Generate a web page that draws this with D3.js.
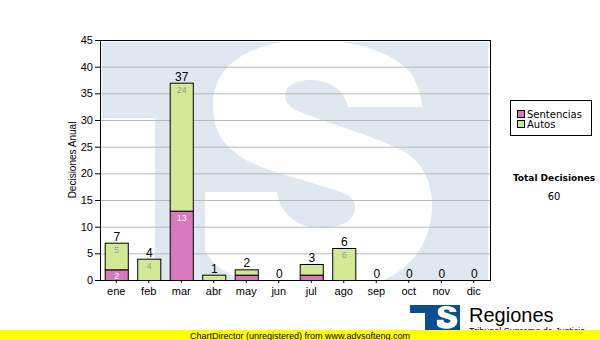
<!DOCTYPE html>
<html>
<head>
<meta charset="utf-8">
<script src="https://cdn.jsdelivr.net/npm/d3@7"></script>
<style>
  body { margin: 0; background: #fff; }
  svg { display: block; font-family: "Liberation Sans", Arial, sans-serif; }
</style>
</head>
<body>
<div id="chart"></div>
<script>
// Monthly decisions, stacked: Sentencias at the bottom, Autos on top
const months = ["ene", "feb", "mar", "abr", "may", "jun", "jul", "ago", "sep", "oct", "nov", "dic"];
const sentencias = [2, 0, 13, 0, 1, 0, 1, 0, 0, 0, 0, 0];
const autos = [5, 4, 24, 1, 1, 0, 2, 6, 0, 0, 0, 0];
const seriesNames = ["Sentencias", "Autos"];
const seriesColors = ["#d878bc", "#d2e894"];
const yTicks = [0, 5, 10, 15, 20, 25, 30, 35, 40, 45];

const width = 600;
const height = 340;
const marginTop = 40;
const marginBottom = 60;
const marginLeft = 100;
const plotRight = 490;

// outline of the "S" of the logo (used big for the watermark, small for the icon)
const sPath = "M422,107 L348,107 C345,92 332,80 312,80 C295,80 285,86 285,95 " +
  "C285,103 290,108 300,112 C330,124 380,138 405,152 C425,165 432,185 432,205 " +
  "C432,262 385,292 325,292 C260,292 215,275 205,250 L205,192 L277,192 " +
  "C280,215 298,228 322,228 C342,228 355,220 355,208 C355,198 348,194 335,190 " +
  "C300,178 250,168 235,152 C218,140 213,122 213,105 C213,62 255,40 310,40 " +
  "C360,40 398,55 412,75 C418,85 422,98 422,107 Z";

const rows = months.map((m, i) => ({month: m, Sentencias: sentencias[i], Autos: autos[i]}));
const series = d3.stack().keys(seriesNames)(rows);

const x = d3.scaleBand()
    .domain(months)
    .range([marginLeft, plotRight])
    .paddingInner(0.29)
    .paddingOuter(0.145);

const y = d3.scaleLinear()
    .domain([0, 45])
    .range([height - marginBottom, marginTop]);

const color = d3.scaleOrdinal().domain(seriesNames).range(seriesColors);

const svg = d3.select("#chart").append("svg")
    .attr("width", width)
    .attr("height", height)
    .attr("viewBox", [0, 0, width, height]);

// clip for the plot area watermark
svg.append("clipPath").attr("id", "plotClip")
  .append("rect")
    .attr("x", marginLeft).attr("y", marginTop)
    .attr("width", plotRight - marginLeft).attr("height", y(0) - marginTop);

// Watermark "TS" logo behind the bars
const wm = svg.append("g").attr("clip-path", "url(#plotClip)");
wm.append("rect")
    .attr("x", marginLeft + 2).attr("y", marginTop + 2)
    .attr("width", plotRight - marginLeft - 4).attr("height", y(0) - marginTop)
    .attr("fill", "#dfe8f1");
wm.append("rect")
    .attr("x", marginLeft).attr("y", 118)
    .attr("width", 55).attr("height", y(0) - 118)
    .attr("fill", "#fff");
wm.append("path")
    .attr("d", sPath)
    .attr("fill", "#fff");

// grid lines
svg.append("g")
  .selectAll("line")
  .data(yTicks.slice(1))
  .join("line")
    .attr("x1", marginLeft).attr("x2", plotRight)
    .attr("y1", d => y(d) + 0.5).attr("y2", d => y(d) + 0.5)
    .attr("stroke", "#b8b8b8");

// y axis
svg.append("g")
    .attr("transform", `translate(${marginLeft},0)`)
    .call(d3.axisLeft(y).tickValues(yTicks).tickSize(5).tickPadding(2).tickSizeOuter(0))
    .call(g => g.select(".domain").remove())
    .call(g => g.selectAll("text").attr("font-size", 11).attr("font-family", "Liberation Sans").attr("fill", "#000"));

svg.append("text")
    .attr("transform", `translate(76,${(marginTop + y(0)) / 2}) rotate(-90)`)
    .attr("text-anchor", "middle")
    .attr("font-size", 10)
    .text("Decisiones Anual");

// x axis
svg.append("g")
    .attr("transform", `translate(0,${y(0)})`)
    .call(d3.axisBottom(x).tickSize(3).tickPadding(4).tickSizeOuter(0))
    .call(g => g.select(".domain").remove())
    .call(g => g.selectAll("text").attr("font-size", 11).attr("font-family", "Liberation Sans").attr("fill", "#000"));

// plot frame
svg.append("rect")
    .attr("x", marginLeft + 0.5).attr("y", marginTop + 0.5)
    .attr("width", plotRight - marginLeft).attr("height", y(0) - marginTop)
    .attr("fill", "none")
    .attr("stroke", "#000");

// stacked bars
const layer = svg.append("g")
  .selectAll("g")
  .data(series)
  .join("g")
    .attr("fill", d => color(d.key));

layer.selectAll("rect")
  .data(d => d.filter(p => p[1] > p[0]))
  .join("rect")
    .attr("x", d => x(d.data.month) + 0.5)
    .attr("y", d => y(d[1]) + 0.5)
    .attr("width", x.bandwidth())
    .attr("height", d => y(d[0]) - y(d[1]))
    .attr("stroke", "#000");

// value labels inside the segments (only where they fit)
const minLabel = {Sentencias: 2, Autos: 3};
layer.selectAll("text")
  .data(d => d.filter(p => p[1] - p[0] >= minLabel[d.key]).map(p => Object.assign(p, {key: d.key})))
  .join("text")
    .attr("x", d => x(d.data.month) + x.bandwidth() / 2 + 0.5)
    .attr("y", d => y(d[1]) + 10)
    .attr("text-anchor", "middle")
    .attr("font-size", 9)
    .attr("fill", d => d.key === "Sentencias" ? "#fff" : "#9a9a9a")
    .text(d => d[1] - d[0]);

// totals above the bars
svg.append("g")
  .selectAll("text")
  .data(rows)
  .join("text")
    .attr("x", d => x(d.month) + x.bandwidth() / 2 + 0.5)
    .attr("y", d => y(d.Sentencias + d.Autos) - 2)
    .attr("text-anchor", "middle")
    .attr("font-size", 12)
    .attr("fill", "#000")
    .text(d => d.Sentencias + d.Autos);

// legend
const legend = svg.append("g").attr("font-family", "DejaVu Sans").attr("font-size", 10);
legend.append("rect")
    .attr("x", 510.5).attr("y", 100.5).attr("width", 81).attr("height", 35)
    .attr("fill", "#fff").attr("stroke", "#000");
const items = legend.selectAll("g.item")
  .data(seriesNames)
  .join("g")
    .attr("class", "item")
    .attr("transform", (d, i) => `translate(517,${110 + i * 10})`);
items.append("rect")
    .attr("x", 0.5).attr("y", 0.5).attr("width", 7).attr("height", 7)
    .attr("fill", d => color(d)).attr("stroke", "#000");
items.append("text")
    .attr("x", 10).attr("y", 7.5)
    .text(d => d);

// total
svg.append("text")
    .attr("x", 554).attr("y", 181)
    .attr("text-anchor", "middle")
    .attr("font-family", "DejaVu Sans")
    .attr("font-weight", "bold")
    .attr("font-size", 9)
    .text("Total Decisiones");
svg.append("text")
    .attr("x", 554).attr("y", 200)
    .attr("text-anchor", "middle")
    .attr("font-family", "DejaVu Sans")
    .attr("font-size", 10)
    .text(d3.sum(sentencias) + d3.sum(autos));

// logo at the bottom
const logo = svg.append("g");
logo.append("rect").attr("x", 410).attr("y", 305).attr("width", 50).attr("height", 30).attr("fill", "#0b4d8f");
logo.append("rect").attr("x", 410).attr("y", 313).attr("width", 15).attr("height", 22).attr("fill", "#fff");
logo.append("path")
    .attr("d", sPath)
    .attr("transform", "translate(418.5,302.4) scale(0.09)")
    .attr("fill", "#fff");
logo.append("text")
    .attr("x", 469).attr("y", 322)
    .attr("font-size", 20)
    .text("Regiones");
logo.append("text")
    .attr("x", 469).attr("y", 334)
    .attr("font-size", 9)
    .text("Tribunal Supremo de Justicia");

// unregistered banner
svg.append("rect").attr("x", 0).attr("y", 330).attr("width", width).attr("height", 10).attr("fill", "#ffff00");
svg.append("text")
    .attr("x", 190).attr("y", 338.5)
    .attr("font-size", 9)
    .attr("fill", "#000")
    .text("ChartDirector (unregistered) from www.advsofteng.com");
</script>
</body>
</html>
